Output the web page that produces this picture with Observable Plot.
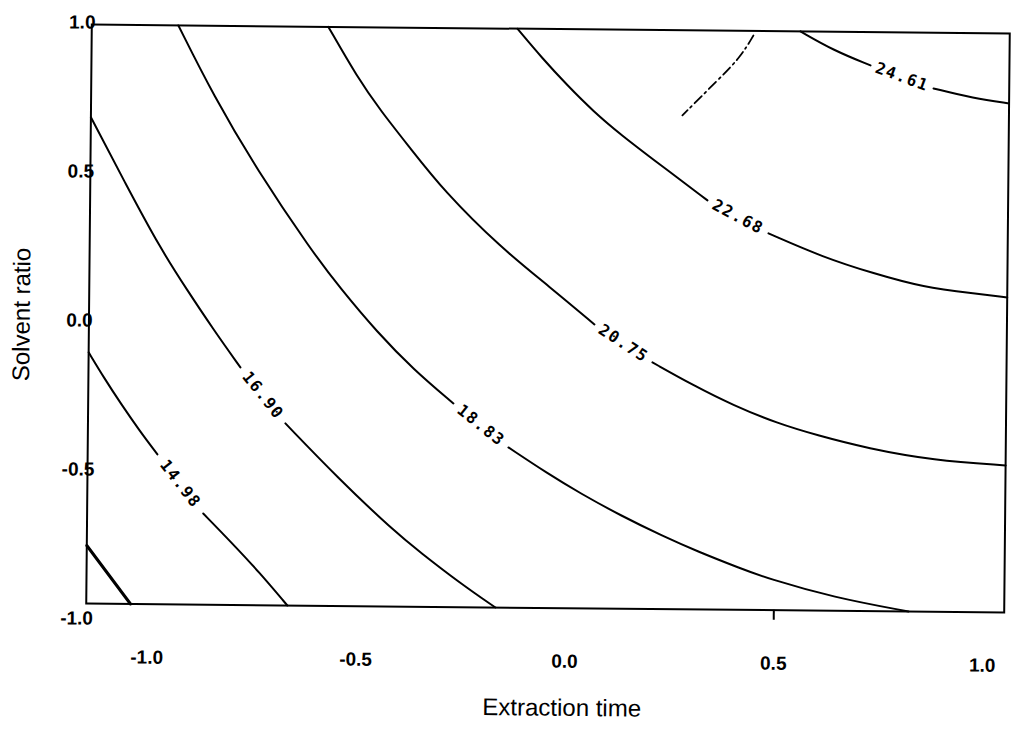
<!DOCTYPE html>
<html>
<head>
<meta charset="utf-8">
<script src="https://cdn.jsdelivr.net/npm/d3@7"></script>
<script src="https://cdn.jsdelivr.net/npm/@observablehq/plot@0.6"></script>
<style>
  html, body { margin: 0; padding: 0; background: #fff; }
  #chart svg { display: block; transform: rotate(0.55deg); transform-origin: 547.5px 318px; }
  #chart svg g[aria-label="x-axis tick label"],
  #chart svg g[aria-label="y-axis tick label"] { font-size: 19px; font-weight: bold; }
</style>
</head>
<body>
<div id="chart"></div>
<script>
// Axis extents and tick values (coded factor levels)
const xDomain = [-1.146, 1.0515];
const yDomain = [-0.95, 0.993];
const xTicks = [-1.0, -0.5, 0.0, 0.5, 1.0];
const yTicks = [-1.0, -0.5, 0.0, 0.5, 1.0];
const xTickMarks = [0.5];

// Contour levels of the response
const levels = [14.98, 16.90, 18.83, 20.75, 22.68, 24.61];

// Contour paths as [extraction time, solvent ratio]; null = gap for the level label
const contour1498 = [
  [-1.146, -0.107], [-1.1078, -0.1938], [-1.0665, -0.2805], [-1.0228, -0.3672], [-0.979, -0.447],
  null,
  [-0.868, -0.644], [-0.800, -0.740], [-0.7322, -0.8398], [-0.6645, -0.95]
];
const contour1690 = [
  [-1.146, 0.682], [-1.062, 0.4612], [-0.9768, 0.244], [-0.9111, 0.1042], [-0.848, -0.0259], [-0.7824, -0.1525],
  null,
  [-0.6734, -0.339], [-0.5453, -0.522], [-0.4125, -0.695], [-0.3473, -0.7675], [-0.2509, -0.870], [-0.1664, -0.95]
];
const contour1883 = [
  [-0.9387, 0.993], [-0.8533, 0.7594], [-0.7463, 0.5091], [-0.6152, 0.242], [-0.5449, 0.1158], [-0.4553, -0.0307],
  [-0.3682, -0.1537], [-0.2717, -0.2665],
  null,
  [-0.139, -0.4124], [-0.045, -0.4983], [0.0344, -0.5644], [0.1307, -0.6369], [0.2341, -0.706], [0.3159, -0.7552],
  [0.4192, -0.8109], [0.4841, -0.8436], [0.6426, -0.9053], [0.8224, -0.95]
];
const contour2075 = [
  [-0.5796, 0.993], [-0.509, 0.8245], [-0.4532, 0.7144], [-0.3804, 0.5879], [-0.3005, 0.448], [-0.1628, 0.2585],
  [-0.0421, 0.1259], [0.0641, 0.0032],
  null,
  [0.2038, -0.1225], [0.3024, -0.1983], [0.3987, -0.2642], [0.5044, -0.3231], [0.6005, -0.362], [0.7205, -0.404],
  [0.8788, -0.4423], [1.0515, -0.4567]
];
const contour2268 = [
  [-0.1271, 0.993], [-0.0666, 0.894], [-0.0061, 0.8043], [0.0568, 0.7179], [0.1219, 0.6416], [0.2136, 0.5455],
  [0.3318, 0.423],
  null,
  [0.4786, 0.3142], [0.6108, 0.2354], [0.7309, 0.1833], [0.8509, 0.138], [0.9708, 0.1194], [1.0515, 0.1071]
];
const contour2461 = [
  [0.5505, 0.993], [0.630, 0.9303], [0.719, 0.8812],
  null,
  [0.8703, 0.806], [0.9662, 0.7738], [1.0515, 0.758]
];
// Unlabelled contour in the lower-left corner and the dash-dot ridge near the top
const cornerContour = [[-1.146, -0.755], [-1.040, -0.95]];
const ridgeLine = [[0.438, 0.978], [0.4075, 0.904], [0.3529, 0.826], [0.2698, 0.7074]];

const contours = [contour1498, contour1690, contour1883, contour2075, contour2268, contour2461];

const W = 1011, H = 747;
const M = {top: 28.5, right: 4.5, bottom: 139.5, left: 88.5};

const sx = Plot.scale({x: {domain: xDomain, range: [M.left, W - M.right]}});
const sy = Plot.scale({y: {domain: yDomain, range: [H - M.bottom, M.top]}});

// Split each contour into segments around its label gap; place the label in the gap
const rows = [];
const labels = [];
levels.forEach((level, i) => {
  const pts = contours[i];
  let seg = 0;
  pts.forEach((p, j) => {
    if (p === null) {
      const a = pts[j - 1], b = pts[j + 1];
      const angle = Math.atan2(sy.apply(b[1]) - sy.apply(a[1]), sx.apply(b[0]) - sx.apply(a[0])) * 180 / Math.PI;
      labels.push({level, x: (a[0] + b[0]) / 2, y: (a[1] + b[1]) / 2, angle});
      seg++;
    } else {
      rows.push({key: `${level}-${seg}`, x: p[0], y: p[1]});
    }
  });
});

const fmt1 = d => d.toFixed(1);

const chart = Plot.plot({
  width: W,
  height: H,
  marginTop: M.top,
  marginRight: M.right,
  marginBottom: M.bottom,
  marginLeft: M.left,
  x: {domain: xDomain},
  y: {domain: yDomain},
  style: {fontFamily: "'Liberation Sans', Arial, sans-serif", background: "#fff", color: "#000"},
  marks: [
    Plot.line(rows, {x: "x", y: "y", z: "key", curve: "basis", stroke: "#000", strokeWidth: 2}),
    Plot.line(cornerContour, {x: d => d[0], y: d => d[1], stroke: "#000", strokeWidth: 3}),
    Plot.line(ridgeLine, {x: d => d[0], y: d => d[1], curve: "basis", stroke: "#000", strokeWidth: 1.8, strokeDasharray: "10,4,2,4"}),
    Plot.text(labels, {
      x: "x", y: "y", text: d => d.level.toFixed(2), rotate: "angle",
      fontFamily: "DejaVu Sans Mono", fontSize: 16, fontWeight: "bold", fill: "#000"
    }),
    Plot.frame({stroke: "#000", strokeWidth: 2}),
    Plot.axisX({ticks: xTicks, tickSize: 0, tickPadding: 46, tickFormat: fmt1, fontSize: 19, fontWeight: "bold", label: null}),
    Plot.axisX({ticks: xTickMarks, tickSize: 10, tickFormat: () => "", strokeWidth: 2, label: null}),
    Plot.axisY({ticks: yTicks, tickSize: 0, tickPadding: 9.5, textAnchor: "middle", tickFormat: fmt1, fontSize: 19, fontWeight: "bold", label: null}),
    Plot.text(["Extraction time"], {text: d => d, frameAnchor: "bottom", lineAnchor: "middle", textAnchor: "middle", dx: 17.5, dy: 100, fontSize: 24, fill: "#000"}),
    Plot.text(["Solvent ratio"], {text: d => d, frameAnchor: "left", lineAnchor: "middle", textAnchor: "middle", dx: -67, dy: 1, rotate: -90, fontSize: 24, fill: "#000"})
  ]
});

// Spaced-out plotter-style contour labels
d3.select(chart).selectAll('g[font-family="DejaVu Sans Mono"] text').style("letter-spacing", "1.5px");

document.getElementById("chart").appendChild(chart);
</script>
</body>
</html>
